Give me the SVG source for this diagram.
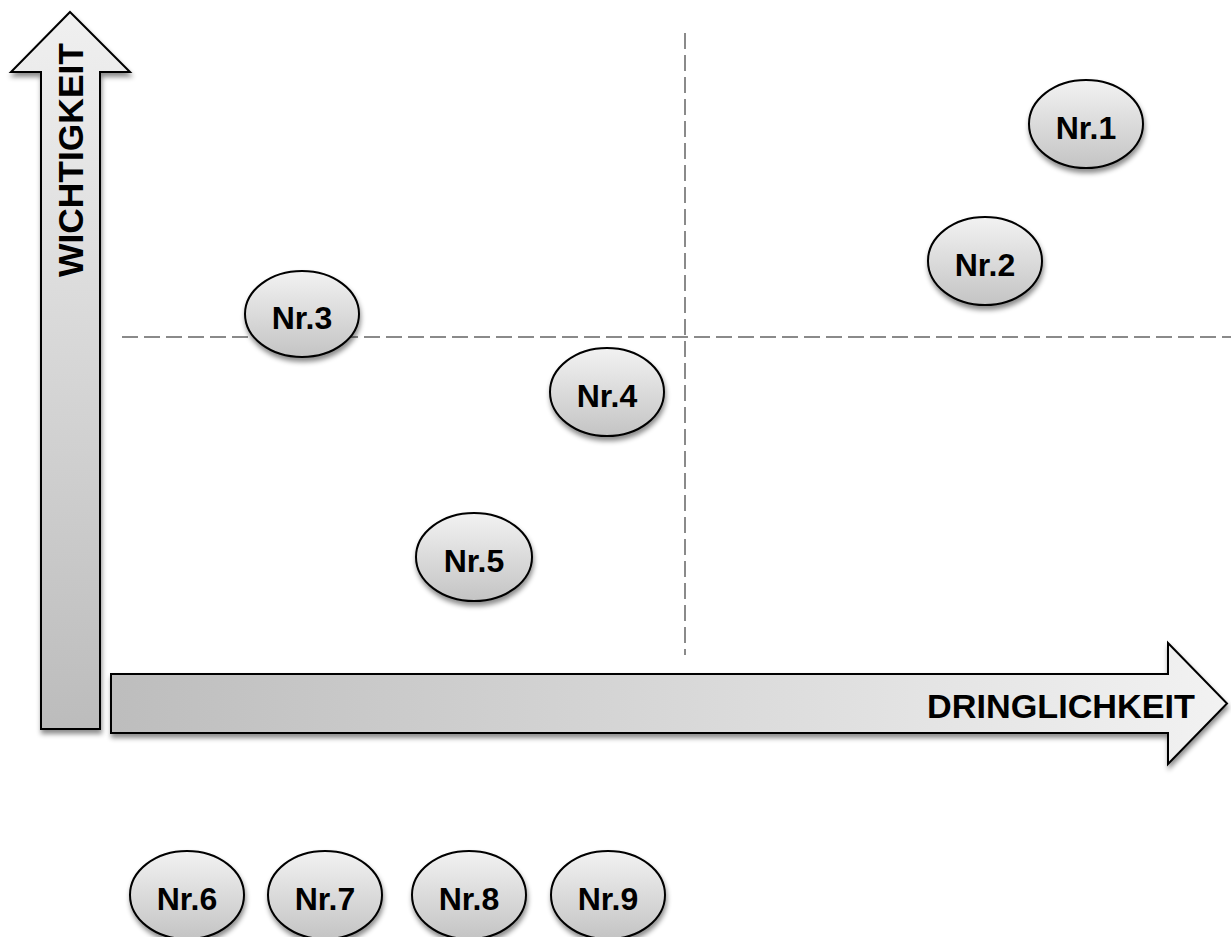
<svg xmlns="http://www.w3.org/2000/svg" width="1231" height="937" viewBox="0 0 1231 937">
<defs>
  <linearGradient id="gEll" x1="0" y1="0" x2="0" y2="1">
    <stop offset="0" stop-color="#f2f2f2"/>
    <stop offset="1" stop-color="#c4c4c4"/>
  </linearGradient>
  <linearGradient id="gV" x1="0" y1="0" x2="0" y2="1">
    <stop offset="0" stop-color="#f0f0f0"/>
    <stop offset="1" stop-color="#bcbcbc"/>
  </linearGradient>
  <linearGradient id="gH" x1="0" y1="0" x2="1" y2="0">
    <stop offset="0" stop-color="#bdbdbd"/>
    <stop offset="1" stop-color="#f2f2f2"/>
  </linearGradient>
  <filter id="sh" x="-20%" y="-20%" width="140%" height="150%">
    <feDropShadow dx="1" dy="4" stdDeviation="2.5" flood-color="#000" flood-opacity="0.45"/>
  </filter>
</defs>
<style>
  .ell{fill:url(#gEll);stroke:#000;stroke-width:2;filter:url(#sh)}
  .lbl{font-family:"Liberation Sans",Arial,sans-serif;font-weight:bold;font-size:32px;fill:#000;text-anchor:middle}
  .axis{font-family:"Liberation Sans",Arial,sans-serif;font-weight:bold;fill:#000}
  .dash{stroke:#8a8a8a;stroke-width:2;stroke-dasharray:16 6;fill:none}
  .arr{stroke:#000;stroke-width:2;filter:url(#sh)}
</style>
<rect width="1231" height="937" fill="#fff"/>
<g id="grid">
  <line class="dash" x1="685" y1="33" x2="685" y2="655"/>
  <line class="dash" x1="122" y1="337" x2="1231" y2="337"/>
</g>
<g id="axis-y">
  <path class="arr" fill="url(#gV)" d="M70,12 L130,72 L100,72 L100,729 L41,729 L41,72 L11,72 Z"/>
  <text class="axis" font-size="35" text-anchor="middle" textLength="234" lengthAdjust="spacingAndGlyphs" transform="translate(83,160) rotate(-90)">WICHTIGKEIT</text>
</g>
<g id="axis-x">
  <path class="arr" fill="url(#gH)" d="M111,674 L1168,674 L1168,643 L1227,703.5 L1168,764 L1168,733 L111,733 Z"/>
  <text class="axis" font-size="34" x="1195" y="718" text-anchor="end" textLength="268" lengthAdjust="spacingAndGlyphs">DRINGLICHKEIT</text>
</g>
<g id="n1"><ellipse class="ell" cx="1086" cy="124" rx="57" ry="44"/><text class="lbl" x="1086" y="139">Nr.1</text></g>
<g id="n2"><ellipse class="ell" cx="985" cy="261" rx="57" ry="44"/><text class="lbl" x="985" y="276">Nr.2</text></g>
<g id="n3"><ellipse class="ell" cx="302" cy="314" rx="57" ry="43"/><text class="lbl" x="302" y="329">Nr.3</text></g>
<g id="n4"><ellipse class="ell" cx="607" cy="392" rx="57" ry="44"/><text class="lbl" x="607" y="407">Nr.4</text></g>
<g id="n5"><ellipse class="ell" cx="474" cy="557" rx="58" ry="44"/><text class="lbl" x="474" y="572">Nr.5</text></g>
<g id="n6"><ellipse class="ell" cx="187" cy="895" rx="57" ry="44"/><text class="lbl" x="187" y="910">Nr.6</text></g>
<g id="n7"><ellipse class="ell" cx="325" cy="895" rx="57" ry="44"/><text class="lbl" x="325" y="910">Nr.7</text></g>
<g id="n8"><ellipse class="ell" cx="469" cy="895" rx="57" ry="44"/><text class="lbl" x="469" y="910">Nr.8</text></g>
<g id="n9"><ellipse class="ell" cx="608" cy="895" rx="57" ry="44"/><text class="lbl" x="608" y="910">Nr.9</text></g>
</svg>
